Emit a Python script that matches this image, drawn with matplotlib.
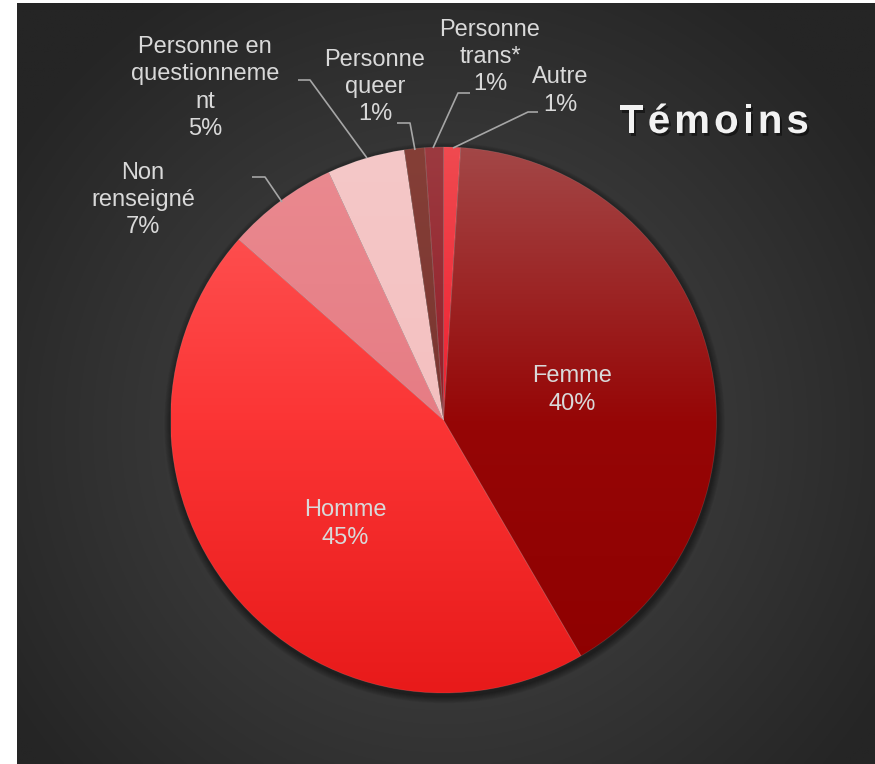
import matplotlib
matplotlib.use("Agg")
import matplotlib.pyplot as plt
import matplotlib.patheffects as pe
from matplotlib.colors import LinearSegmentedColormap, to_rgb
from matplotlib.patches import Circle
import numpy as np

# ----------------------------------------------------------------------------------------------------------------------
# Data
categories = ["Autre", "Femme", "Homme", "Non\nrenseigné", "Personne en\nquestionneme\nnt",
              "Personne\nqueer", "Personne\ntrans*"]
values = [1.0, 40.6, 44.9, 6.6, 4.6, 1.2, 1.1]
pct_labels = ["1%", "40%", "45%", "7%", "5%", "1%", "1%"]
title = "Témoins"

# slice colours: flat fill + (top, middle, bottom) of the vertical gradient
flat_colors = ["#ee2a35", "#980c0c", "#f43030", "#e8828a", "#f5c4c4", "#7f3a32", "#962c34"]
grad_colors = [("#f04a50", "#ee2030", "#ec1020"),
               ("#a34747", "#960606", "#8e0000"),
               ("#ff5a5a", "#fb3535", "#e81a1a"),
               ("#ea8a90", "#e67c84", "#e2707a"),
               ("#f5c8c8", "#f4c0c0", "#f2b8b8"),
               ("#853f37", "#7a3530", "#70302a"),
               ("#9c3a40", "#921e28", "#8a1020")]

W, H = 875, 764
def Y(y):
    # image row -> data y
    return H - y

cx, cy, r = 443.5, Y(420), 273

fig = plt.figure(figsize=(W / 100, H / 100), dpi=100, facecolor="white")
ax = fig.add_axes([0, 0, 1, 1])

# radial gradient background
bx0, bx1, by0, by1 = 17, W, 0, Y(3)
gx, gy = np.meshgrid(np.linspace(bx0, bx1, 400), np.linspace(by0, by1, 400))
d = np.sqrt(((gx - cx) / 520.0) ** 2 + ((gy - Y(430)) / 520.0) ** 2)
d = np.clip(d, 0, 1)
c_in, c_out = np.array(to_rgb("#4a4a4a")), np.array(to_rgb("#252525"))
bg = c_in[None, None, :] * (1 - d[..., None]) + c_out[None, None, :] * d[..., None]
ax.imshow(bg, extent=[bx0, bx1, by0, by1], origin="lower", aspect="auto", zorder=0)

# soft shadow under the pie
for k in range(8, 0, -1):
    ax.add_patch(Circle((cx + 1, cy - 3), r + k * 0.9, facecolor="black", edgecolor="none",
                        alpha=0.06, zorder=1))

wedges, _ = ax.pie(values, startangle=90, counterclock=False, center=(cx, cy), radius=r,
                   colors=flat_colors,
                   wedgeprops=dict(edgecolor=(1, 1, 1, 0.12), linewidth=0.6))

grad = np.linspace(0, 1, 256).reshape(-1, 1)
for w, (ctop, cmid, cbot) in zip(wedges, grad_colors):
    cmap = LinearSegmentedColormap.from_list("g", [cbot, cmid, ctop])
    im = ax.imshow(grad, cmap=cmap, extent=[cx - r, cx + r, cy - r, cy + r], origin="lower",
                   aspect="auto", zorder=3)
    im.set_clip_path(w)
    w.set_facecolor("none")
    w.set_zorder(4)

# labels
lab_color = "#d9d9d9"
font = dict(family=["Liberation Sans", "DejaVu Sans"], size=17, color=lab_color,
            ha="center", va="center", linespacing=1.32, zorder=6)
label_pos = [(560, 91), (572, 390), (345, 524), (143, 200), (205, 88), (375, 87), (490, 57)]
for name, pct, (lx, ly) in zip(categories, pct_labels, label_pos):
    ax.text(lx, Y(ly), name + "\n" + pct, **font)

# leader lines
leaders = [
    [(538, 112), (528, 112), (453, 148)],
    [(252, 177), (265, 177), (282, 202)],
    [(298, 80), (310, 80), (367, 158)],
    [(397, 123), (410, 123), (415, 150)],
    [(470, 93), (458, 93), (433, 148)],
]
for pts in leaders:
    xs = [p[0] for p in pts]
    ys = [Y(p[1]) for p in pts]
    ax.plot(xs, ys, color="#a6a6a6", linewidth=1.2, zorder=5, solid_capstyle="butt")

ax.set_xlim(0, W)
ax.set_ylim(0, H)
ax.set_aspect("auto")
ax.axis("off")

# title, drawn letter by letter to get the wide spacing
tfont = dict(family=["Liberation Sans", "DejaVu Sans"], size=29, weight="bold", color="#f2f2f2",
             va="baseline", ha="left", zorder=7,
             path_effects=[pe.withSimplePatchShadow(offset=(1.5, -2), shadow_rgbFace="black",
                                                    alpha=0.45)])
renderer = fig.canvas.get_renderer()
spacing = 4.0
widths = []
for ch in title:
    t = ax.text(0, 0, ch, **tfont)
    widths.append(t.get_window_extent(renderer).width)
    t.remove()
total = sum(widths) + spacing * (len(title) - 1)
x = 714 - total / 2
for ch, wd in zip(title, widths):
    ax.text(x, Y(133), ch, **tfont)
    x += wd + spacing

fig.savefig("out.png", dpi=100, facecolor="white")
